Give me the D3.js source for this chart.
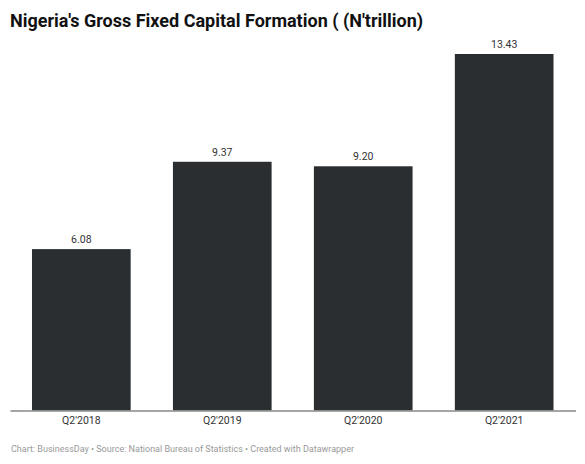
<!DOCTYPE html>
<html>
<head>
<meta charset="utf-8">
<script src="https://cdn.jsdelivr.net/npm/d3@7"></script>
<style>
  body { margin: 0; background: #fff; }
  svg { display: block; font-family: Roboto, "Noto Sans", sans-serif; }
</style>
</head>
<body>
<div id="chart"></div>
<script>
const quarters = ["Q2'2018", "Q2'2019", "Q2'2020", "Q2'2021"];
const values = [6.08, 9.37, 9.20, 13.43];

const width = 585;
const height = 464;
const margin = ({top: 54, right: 9.5, left: 10, bottom: 53.5});

const svg = d3.select("#chart")
              .append("svg")
              .attr("width", width)
              .attr("height", height);

const data = quarters.map((q, i) => ({quarter: q, value: values[i]}));

let x = d3.scaleBand()
          .domain(quarters)
          .range([margin.left, width - margin.right])
          .paddingInner(0.3)
          .paddingOuter(0.156);

let y = d3.scaleLinear()
          .domain([0, d3.max(values)])
          .range([height - margin.bottom, margin.top]);

// title
svg.append('text')
   .attr('x', 10)
   .attr('y', 27)
   .attr('font-size', 18)
   .attr('font-weight', 'bold')
   .attr('fill', '#111')
   .text("Nigeria's Gross Fixed Capital Formation ( (N'trillion)");

// bars
svg.append('g')
   .selectAll('rect')
   .data(data)
   .join('rect')
   .attr('x', d => x(d.quarter))
   .attr('y', d => y(d.value))
   .attr('width', x.bandwidth())
   .attr('height', d => y(0) - y(d.value))
   .attr('fill', '#2a2e31');

// value labels
svg.append('g')
   .selectAll('text')
   .data(data)
   .join('text')
   .attr('x', d => x(d.quarter) + x.bandwidth() / 2)
   .attr('y', d => y(d.value) - 6)
   .attr('text-anchor', 'middle')
   .attr('font-size', 10.5)
   .attr('fill', '#333')
   .text(d => d.value.toFixed(2));

// x axis
let xAxis = g => g
    .call(d3.axisBottom(x).tickSize(0).tickPadding(6))
    .call(g => g.select('.domain').attr('stroke', '#888').attr('stroke-width', 1.3))
    .call(g => g.selectAll('.tick text')
                .attr('font-size', 10.5)
                .attr('fill', '#333')
                .attr('font-family', 'Roboto, sans-serif'));

svg.append('g')
   .attr('transform', `translate(0,${y(0)})`)
   .call(xAxis);

// footer
svg.append('text')
   .attr('x', 11)
   .attr('y', 452)
   .attr('font-size', 9)
   .attr('fill', '#999')
   .text('Chart: BusinessDay \u2022 Source: National Bureau of Statistics \u2022 Created with Datawrapper');
</script>
</body>
</html>
